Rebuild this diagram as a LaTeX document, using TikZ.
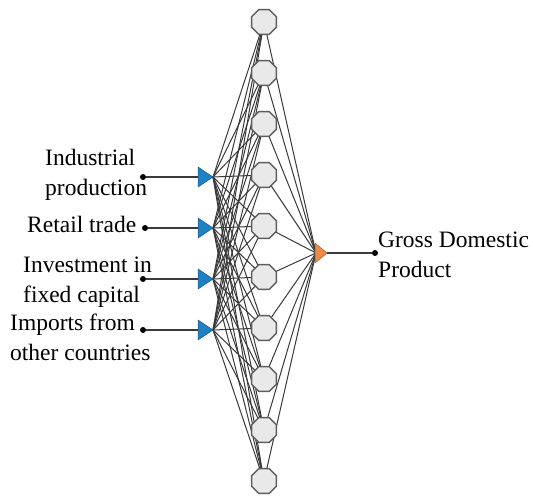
\documentclass[tikz,border=0pt]{standalone}
\usepackage{fontspec}
\setmainfont{Liberation Serif}
\usetikzlibrary{shapes.geometric}
\definecolor{inblue}{HTML}{1F80C2}
\definecolor{outorange}{HTML}{F08848}
\definecolor{hidfill}{HTML}{E9E9E9}
\definecolor{hidedge}{HTML}{5E5E5E}
\definecolor{wire}{HTML}{3A3A3A}
\tikzset{
  hidden/.style={regular polygon, regular polygon sides=8, minimum size=27pt, inner sep=0pt, fill=hidfill, draw=hidedge, line width=1.5pt},
  wirestyle/.style={draw=wire, line width=1pt},
  feed/.style={draw=wire, line width=1.5pt},
  lbl/.style={font=\fontsize{23.5}{30}\selectfont, inner sep=0pt, align=left, anchor=base west},
  dotnode/.style={circle, fill=black, inner sep=0pt, minimum size=6pt},
}
\begin{document}
\begin{tikzpicture}[x=1pt, y=-1pt]
\useasboundingbox[fill=white] (0,0) rectangle (533,497);
% hidden layer centres
\foreach \k in {0,...,9} {
  \coordinate (hc\k) at (264, 22+51*\k);
}
% input tips and output
\coordinate (i1) at (213,177);
\coordinate (i2) at (213,228);
\coordinate (i3) at (213,279);
\coordinate (i4) at (213,330);
\coordinate (ob) at (316,253);
\coordinate (ot) at (327,253);
% connections
\foreach \i in {1,...,4} {
  \foreach \k in {0,...,9} {
    \path[wirestyle] (i\i) -- (hc\k);
  }
}
\foreach \k in {0,...,9} {
  \path[wirestyle] (hc\k) -- (ob);
}
% hidden nodes
\foreach \k in {0,...,9} {
  \node[hidden] (h\k) at (hc\k) {};
}
% input dots and labels
\node[dotnode] (d1) at (143,177) {};
\node[dotnode] (d2) at (145,228) {};
\node[dotnode] (d3) at (143,279) {};
\node[dotnode] (d4) at (143,330) {};
\node[dotnode] (dout) at (375,253) {};
\foreach \i in {1,...,4} {
  \path[feed] (d\i) -- (i\i);
}
\path[feed] (ot) -- (dout);
% triangles
\foreach \i in {1,...,4} {
  \filldraw[fill=inblue, draw=inblue!70!black, line width=0.5pt] (i\i) -- ++(-15,-10) -- ++(0,20) -- cycle;
}
\filldraw[fill=outorange, draw=outorange!70!black, line width=0.5pt] (ot) -- ++(-12,-10) -- ++(0,20) -- cycle;
% labels (anchored at the baseline of the last line)
\node[lbl] (l1) at (45,196) {Industrial\\production};
\node[lbl] (l2) at (27,233) {Retail trade};
\node[lbl] (l3) at (23,302) {Investment in\\fixed capital};
\node[lbl] (l4) at (10,360) {Imports from\\other countries};
\node[lbl] (l5) at (378,277) {Gross Domestic\\Product};
\end{tikzpicture}
\end{document}
